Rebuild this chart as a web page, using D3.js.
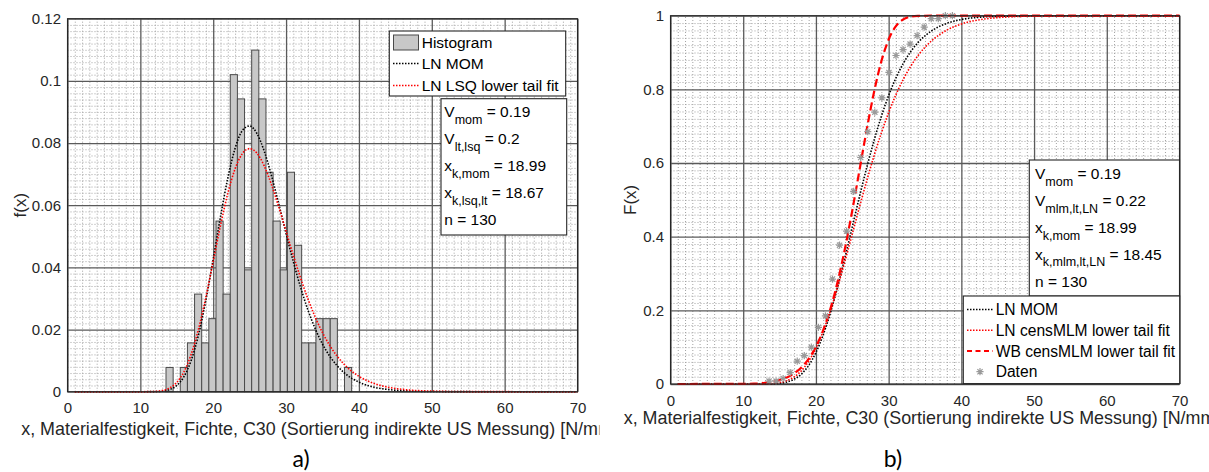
<!DOCTYPE html>
<html><head><meta charset="utf-8">
<script src="https://cdn.jsdelivr.net/npm/d3@7"></script>
<style>
html,body{margin:0;padding:0;background:#fff;}
svg{display:block;font-family:"Liberation Sans",Arial,sans-serif;}
</style></head><body>
<svg id="chart" width="1209" height="472"></svg>
<script>
// ---------------- data ----------------
const binLeft = [13.52,14.50,15.48,16.46,17.44,18.42,19.40,20.38,21.36,22.34,23.32,24.30,25.28,26.26,27.24,28.22,29.20,30.18,31.16,32.14,33.12,34.10,35.08,36.06,37.04,38.02];
const binWidth = 0.98;
const histDensity = [0.0078,0,0.0078,0.0157,0.0314,0.0157,0.0235,0.0549,0.0314,0.1020,0.0942,0.0392,0.1099,0.0942,0.0706,0.0549,0.0392,0.0706,0.0471,0.0157,0.0157,0.0235,0.0235,0.0235,0,0.0078];

const pdfX   = [1,8,10,12,13,14,15,16,17,18,19,20,21,22,23,24,25,26,27,28,29,30,31,32,33,34,35,36,37,38,40,42,44,46,50,55,60,70];
const pdfMOM = [0,0,0,0.00003,0.00018,0.00067,0.00201,0.00492,0.01023,0.01847,0.02957,0.04266,0.05628,0.06868,0.07827,0.08400,0.08551,0.08306,0.07739,0.06948,0.06036,0.05090,0.04180,0.03352,0.02630,0.02025,0.01531,0.01140,0.00837,0.00606,0.00308,0.00150,0.00071,0.00033,0.00007,0.00001,0,0];
const pdfLSQ = [0,0,0,0.00009,0.00037,0.00117,0.00300,0.00648,0.01218,0.02030,0.03050,0.04196,0.05348,0.06375,0.07170,0.07659,0.07821,0.07672,0.07263,0.06661,0.05939,0.05162,0.04387,0.03651,0.02985,0.02399,0.01900,0.01484,0.01146,0.00874,0.00495,0.00271,0.00144,0.00075,0.00019,0.00003,0.00001,0];

const cdfX      = [1,10,12,13,14,15,16,17,18,19,20,21,22,23,24,25,26,27,28,29,30,31,32,33,34,36,38,40,43,46,50,55,60,70];
const cdfMOM    = [0,0,0.00002,0.00013,0.00055,0.00188,0.00531,0.01278,0.02685,0.05027,0.08538,0.13336,0.19388,0.26513,0.34399,0.42670,0.50936,0.58858,0.66165,0.72686,0.78330,0.83085,0.86994,0.90139,0.92620,0.96008,0.97926,0.98959,0.99648,0.99887,0.99977,1,1,1];
const cdfLNcens = [0,0,0.0001,0.00041,0.00137,0.00383,0.00916,0.01921,0.03607,0.06169,0.09740,0.14362,0.19971,0.26402,0.33421,0.40753,0.48120,0.55273,0.62009,0.68185,0.73705,0.78536,0.82681,0.86173,0.89070,0.93351,0.96079,0.97748,0.99058,0.99620,0.99892,0.99978,1,1];
const cdfWBcens = [0,0.00042,0.0018,0.0034,0.00614,0.01064,0.01777,0.02870,0.04496,0.06842,0.10137,0.14607,0.20473,0.27887,0.36834,0.47111,0.58177,0.69242,0.79337,0.87611,0.93535,0.97158,0.98985,0.99718,0.99942,0.99999,1,1,1,1,1,1,1,1];

const datenX = [13.55,14.52,15.49,16.46,17.43,18.40,19.37,20.34,21.31,22.28,23.25,24.22,25.19,26.16,27.13,28.10,29.07,30.04,31.01,31.98,32.95,33.92,34.89,35.86,36.83,37.80,38.77];
const datenF = [0.008,0.008,0.015,0.031,0.062,0.077,0.100,0.154,0.185,0.285,0.377,0.415,0.523,0.615,0.685,0.738,0.777,0.846,0.892,0.908,0.923,0.946,0.969,0.992,0.992,1.0,1.0];

const xTicks = [0,10,20,30,40,50,60,70];
const yTicksPdf = [0,0.02,0.04,0.06,0.08,0.1,0.12];
const yTicksCdf = [0,0.2,0.4,0.6,0.8,1];
const xLabelText = "x, Materialfestigkeit, Fichte, C30 (Sortierung indirekte US Messung) [N/mm²]";

const legendLeft = ["Histogram","LN MOM","LN LSQ lower tail fit"];
const statsLeft = [["V","mom"," = 0.19"],["V","lt,lsq"," = 0.2"],["x","k,mom"," = 18.99"],["x","k,lsq,lt"," = 18.67"],["n = 130","",""]];
const legendRight = ["LN MOM","LN censMLM lower tail fit","WB censMLM lower tail fit","Daten"];
const statsRight = [["V","mom"," = 0.19"],["V","mlm,lt,LN"," = 0.22"],["x","k,mom"," = 18.99"],["x","k,mlm,lt,LN"," = 18.45"],["n = 130","",""]];

// ---------------- drawing ----------------
const svg = d3.select("#chart");
svg.append("rect").attr("width",1209).attr("height",472).attr("fill","#fff");
const defs = svg.append("defs");
defs.append("clipPath").attr("id","clipLeftFig").append("rect").attr("x",0).attr("y",0).attr("width",599.5).attr("height",472);

const TXT = "#262626";

function panel(g, x, y, yTicks, yMinor, yFmt, xLabelY, yLabel, yLabelX) {
  const [x0,x1] = x.range(), [yb,yt] = y.range();
  const h = yb - yt, w = x1 - x0;
  const xMinor = d3.range(1,70).filter(i => i % 10 !== 0);
  // minor grid
  g.append("g").attr("transform",`translate(0,${yb})`)
    .call(d3.axisBottom(x).tickValues(xMinor).tickSize(-h).tickFormat(""))
    .call(a => a.select(".domain").remove())
    .call(a => a.selectAll("line").attr("stroke","#a3a3a3").attr("stroke-dasharray","1,2").attr("stroke-width",1));
  g.append("g").attr("transform",`translate(${x0},0)`)
    .call(d3.axisLeft(y).tickValues(yMinor).tickSize(-w).tickFormat(""))
    .call(a => a.select(".domain").remove())
    .call(a => a.selectAll("line").attr("stroke","#a3a3a3").attr("stroke-dasharray","1,2").attr("stroke-width",1));
  // major grid
  g.append("g").attr("transform",`translate(0,${yb})`)
    .call(d3.axisBottom(x).tickValues(xTicks).tickSize(-h).tickFormat(""))
    .call(a => a.select(".domain").remove())
    .call(a => a.selectAll("line").attr("stroke","#5a5a5a").attr("stroke-width",1.3));
  g.append("g").attr("transform",`translate(${x0},0)`)
    .call(d3.axisLeft(y).tickValues(yTicks).tickSize(-w).tickFormat(""))
    .call(a => a.select(".domain").remove())
    .call(a => a.selectAll("line").attr("stroke","#5a5a5a").attr("stroke-width",1.3));
  // tick labels
  g.append("g").attr("transform",`translate(0,${yb})`)
    .call(d3.axisBottom(x).tickValues(xTicks).tickSize(0).tickPadding(11))
    .call(a => a.select(".domain").remove())
    .call(a => a.selectAll("text").attr("font-size",15).attr("fill",TXT).attr("font-family","Liberation Sans, Arial, sans-serif"));
  g.append("g").attr("transform",`translate(${x0},0)`)
    .call(d3.axisLeft(y).tickValues(yTicks).tickSize(0).tickPadding(6.5).tickFormat(yFmt))
    .call(a => a.select(".domain").remove())
    .call(a => a.selectAll("text").attr("font-size",15).attr("fill",TXT).attr("font-family","Liberation Sans, Arial, sans-serif"));
  // axis labels
  g.append("text").attr("x",(x0+x1)/2).attr("y",xLabelY).attr("text-anchor","middle")
    .attr("font-size",17.9).attr("fill",TXT).text(xLabelText);
  g.append("text").attr("transform",`translate(${yLabelX},${(yb+yt)/2}) rotate(-90)`)
    .attr("text-anchor","middle").attr("dominant-baseline","central")
    .attr("font-size",17).attr("fill",TXT).text(yLabel);
}

function frame(g, x, y) {
  const [x0,x1] = x.range(), [yb,yt] = y.range();
  g.append("rect").attr("x",x0).attr("y",yt).attr("width",x1-x0).attr("height",yb-yt)
    .attr("fill","none").attr("stroke","#262626").attr("stroke-width",1.1);
}

function statsBox(g, bx, by, bw, bh, tx, ty0, dy, rows) {
  g.append("rect").attr("x",bx).attr("y",by).attr("width",bw).attr("height",bh)
    .attr("fill","#fff").attr("stroke","#262626").attr("stroke-width",1.1);
  rows.forEach((r,i) => {
    const t = g.append("text").attr("x",tx).attr("y",ty0+i*dy).attr("font-size",15.5).attr("fill","#000");
    t.append("tspan").text(r[0]);
    if (r[1]) {
      t.append("tspan").attr("dy",6.5).attr("font-size",12.5).text(r[1]);
      t.append("tspan").attr("dy",-6.5).text(r[2]);
    }
  });
}

function asterisk(sel) {
  sel.append("path").attr("d","M-3.6,0H3.6M0,-3.6V3.6M-2.6,-2.6L2.6,2.6M-2.6,2.6L2.6,-2.6")
    .attr("stroke","#9a9a9a").attr("stroke-width",1.2).attr("fill","none");
}

// ===== Left panel (a) =====
const gL = svg.append("g").attr("clip-path","url(#clipLeftFig)");
const xL = d3.scaleLinear().domain([0,70]).range([67.5,577.5]);
const yL = d3.scaleLinear().domain([0,0.12]).range([391.7,18.7]);
panel(gL, xL, yL, yTicksPdf, d3.range(1,60).filter(i => i % 10 !== 0).map(i => i*0.002),
      d => String(+d.toFixed(2)), 435, "f(x)", 20);

gL.append("g").selectAll("rect").data(histDensity).join("rect")
  .attr("x",(d,i) => xL(binLeft[i]))
  .attr("width",(d,i) => xL(binLeft[i]+binWidth) - xL(binLeft[i]))
  .attr("y",d => yL(d)).attr("height",d => yL(0) - yL(d))
  .attr("fill","#c8c8c8").attr("stroke","#4a4a4a").attr("stroke-width",1);

const lineL = d3.line().x(d => xL(d[0])).y(d => yL(d[1])).curve(d3.curveMonotoneX);
gL.append("path").attr("d",lineL(pdfX.map((v,i)=>[v,pdfMOM[i]])))
  .attr("fill","none").attr("stroke","#000").attr("stroke-width",1.6).attr("stroke-dasharray","1.5,1.5");
gL.append("path").attr("d",lineL(pdfX.map((v,i)=>[v,pdfLSQ[i]])))
  .attr("fill","none").attr("stroke","#ff0000").attr("stroke-width",1.6).attr("stroke-dasharray","1.5,1.5");
frame(gL, xL, yL);

// legend left
gL.append("rect").attr("x",389.3).attr("y",31).attr("width",176.4).attr("height",65)
  .attr("fill","#fff").attr("stroke","#262626").attr("stroke-width",1.1);
gL.append("rect").attr("x",393.5).attr("y",35).attr("width",25).attr("height",15)
  .attr("fill","#c8c8c8").attr("stroke","#4a4a4a").attr("stroke-width",1);
gL.append("line").attr("x1",393).attr("x2",419).attr("y1",63.5).attr("y2",63.5)
  .attr("stroke","#000").attr("stroke-width",1.6).attr("stroke-dasharray","1.5,1.5");
gL.append("line").attr("x1",393).attr("x2",419).attr("y1",85.5).attr("y2",85.5)
  .attr("stroke","#ff0000").attr("stroke-width",1.6).attr("stroke-dasharray","1.5,1.5");
legendLeft.forEach((t,i) => {
  gL.append("text").attr("x",421.7).attr("y",47.8 + i*21.5).attr("font-size",15.5).attr("fill","#000").text(t);
});
statsBox(gL, 441, 98.7, 125.7, 136.3, 444.3, 117.3, 26.9, statsLeft);

gL.append("text").attr("x",301).attr("y",467).attr("text-anchor","middle")
  .attr("font-family","Lato, 'Open Sans', sans-serif").attr("font-size",23).attr("fill","#000").text("a)");

// ===== Right panel (b) =====
const gR = svg.append("g");
const xR = d3.scaleLinear().domain([0,70]).range([670.5,1179.5]);
const yR = d3.scaleLinear().domain([0,1]).range([384,15.7]);
panel(gR, xR, yR, yTicksCdf, d3.range(1,50).filter(i => i % 10 !== 0).map(i => i*0.02),
      d => String(+d.toFixed(1)), 424, "F(x)", 630.5);

const lineR = d3.line().x(d => xR(d[0])).y(d => yR(d[1])).curve(d3.curveMonotoneX);
gR.append("path").attr("d",lineR(cdfX.map((v,i)=>[v,cdfMOM[i]])))
  .attr("fill","none").attr("stroke","#000").attr("stroke-width",1.6).attr("stroke-dasharray","1.5,1.5");
gR.append("path").attr("d",lineR(cdfX.map((v,i)=>[v,cdfLNcens[i]])))
  .attr("fill","none").attr("stroke","#ff0000").attr("stroke-width",1.6).attr("stroke-dasharray","1.5,1.5");
gR.append("path").attr("d",lineR(cdfX.map((v,i)=>[v,cdfWBcens[i]])))
  .attr("fill","none").attr("stroke","#ff0000").attr("stroke-width",2.2).attr("stroke-dasharray","8,4");
gR.append("g").selectAll("g").data(datenX).join("g")
  .attr("transform",(d,i) => `translate(${xR(d)},${yR(datenF[i])})`)
  .call(asterisk);
frame(gR, xR, yR);

statsBox(gR, 1029.3, 160, 150.2, 136, 1035, 179.3, 26.85, statsRight);

// legend right
gR.append("rect").attr("x",963.3).attr("y",296).attr("width",216.4).attr("height",87.6)
  .attr("fill","#fff").attr("stroke","#262626").attr("stroke-width",1.1);
gR.append("line").attr("x1",967).attr("x2",993).attr("y1",309.5).attr("y2",309.5)
  .attr("stroke","#000").attr("stroke-width",1.6).attr("stroke-dasharray","1.5,1.5");
gR.append("line").attr("x1",967).attr("x2",993).attr("y1",330.3).attr("y2",330.3)
  .attr("stroke","#ff0000").attr("stroke-width",1.6).attr("stroke-dasharray","1.5,1.5");
gR.append("line").attr("x1",967).attr("x2",993).attr("y1",351).attr("y2",351)
  .attr("stroke","#ff0000").attr("stroke-width",2.2).attr("stroke-dasharray","5,3.5");
gR.append("g").attr("transform","translate(980,371.7)").call(asterisk);
legendRight.forEach((t,i) => {
  gR.append("text").attr("x",995.7).attr("y",315 + i*20.8).attr("font-size",15.6).attr("fill","#000").text(t);
});

gR.append("text").attr("x",893).attr("y",467).attr("text-anchor","middle")
  .attr("font-family","Lato, 'Open Sans', sans-serif").attr("font-size",23).attr("fill","#000").text("b)");
</script>
</body></html>
